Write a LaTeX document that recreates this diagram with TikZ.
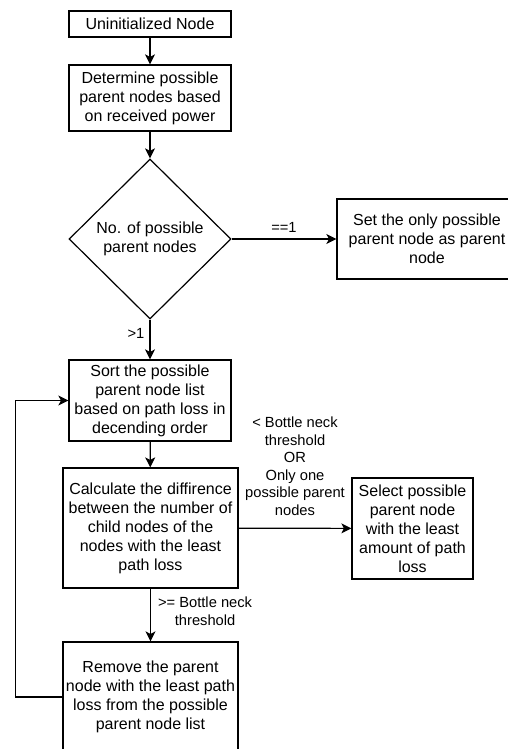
\documentclass[tikz,border=0pt]{standalone}
\usepackage{fontspec}
\setmainfont{Liberation Sans}
\usepackage{tikz}
\usetikzlibrary{calc,shapes.geometric,arrows.meta}
\tikzstyle{etape} = [rectangle, draw=black, line width=1.2pt, align=center, inner sep=0pt, font=\fontsize{16}{19}\selectfont]
\tikzstyle{test} = [diamond, draw=black, line width=1.2pt, align=center, inner sep=0pt, minimum width=162pt, minimum height=160pt, font=\fontsize{16}{19}\selectfont]
\tikzstyle{fleche} = [line width=1.2pt, -{Stealth[length=10pt,width=10pt,inset=2.5pt]}]
\tikzstyle{etiquette} = [align=center, inner sep=0pt, font=\fontsize{14.7}{17.6}\selectfont]

\begin{document}
\begin{tikzpicture}[x=1pt,y=-1pt]
        \useasboundingbox (0,0) rectangle (507,749);

        %% steps
        \node (E0) [etape, minimum width=162pt, minimum height=26pt] at (150,24) {Uninitialized Node};
        \node (E1) [etape, minimum width=162pt, minimum height=66pt] at (150,98) {Determine possible\\parent nodes based\\on received power};
        \node (D1) [test] at (150,239) {No. of possible\\parent nodes};
        \node (E2) [etape, minimum width=180pt, minimum height=80pt] at (427,239) {Set the only possible\\parent node as parent\\node};
        \node (E3) [etape, minimum width=162pt, minimum height=81pt] at (150,400.5) {Sort the possible\\parent node list\\based on path loss in\\decending order};
        \node (E4) [etape, minimum width=175pt, minimum height=120pt] at (150.5,528) {Calculate the diffirence\\between the number of\\child nodes of the\\nodes with the least\\path loss};
        \node (E5) [etape, minimum width=121pt, minimum height=101pt] at (412.5,528.5) {Select possible\\parent node\\with the least\\amount of path\\loss};
        \node (E6) [etape, minimum width=175pt, minimum height=110pt] at (150.5,697) {Remove the parent\\node with the least path\\loss from the possible\\parent node list};

        %% links
        \draw[fleche] (E0) -- (E1);
        \draw[fleche] (E1) -- (D1);
        \draw[fleche] (D1) -- node[etiquette, above=6pt]{==1} (E2);
        \draw[fleche] (D1) -- node[etiquette, pos=0.35, left=5pt]{>1} (E3);
        \draw[fleche] (E3) -- (E4);
        \draw[fleche] (E4) -- node[etiquette, above=12pt]{< Bottle neck\\threshold\\OR\\Only one\\possible parent\\nodes} (E5);
        \draw[fleche] (E4) -- node[etiquette, right=7pt, yshift=4pt]{>= Bottle neck\\threshold} (E6);

        %% loop back
        \draw[fleche] (E6.west) -- ++(-47,0) |- (E3.west);

    \end{tikzpicture}
\end{document}
